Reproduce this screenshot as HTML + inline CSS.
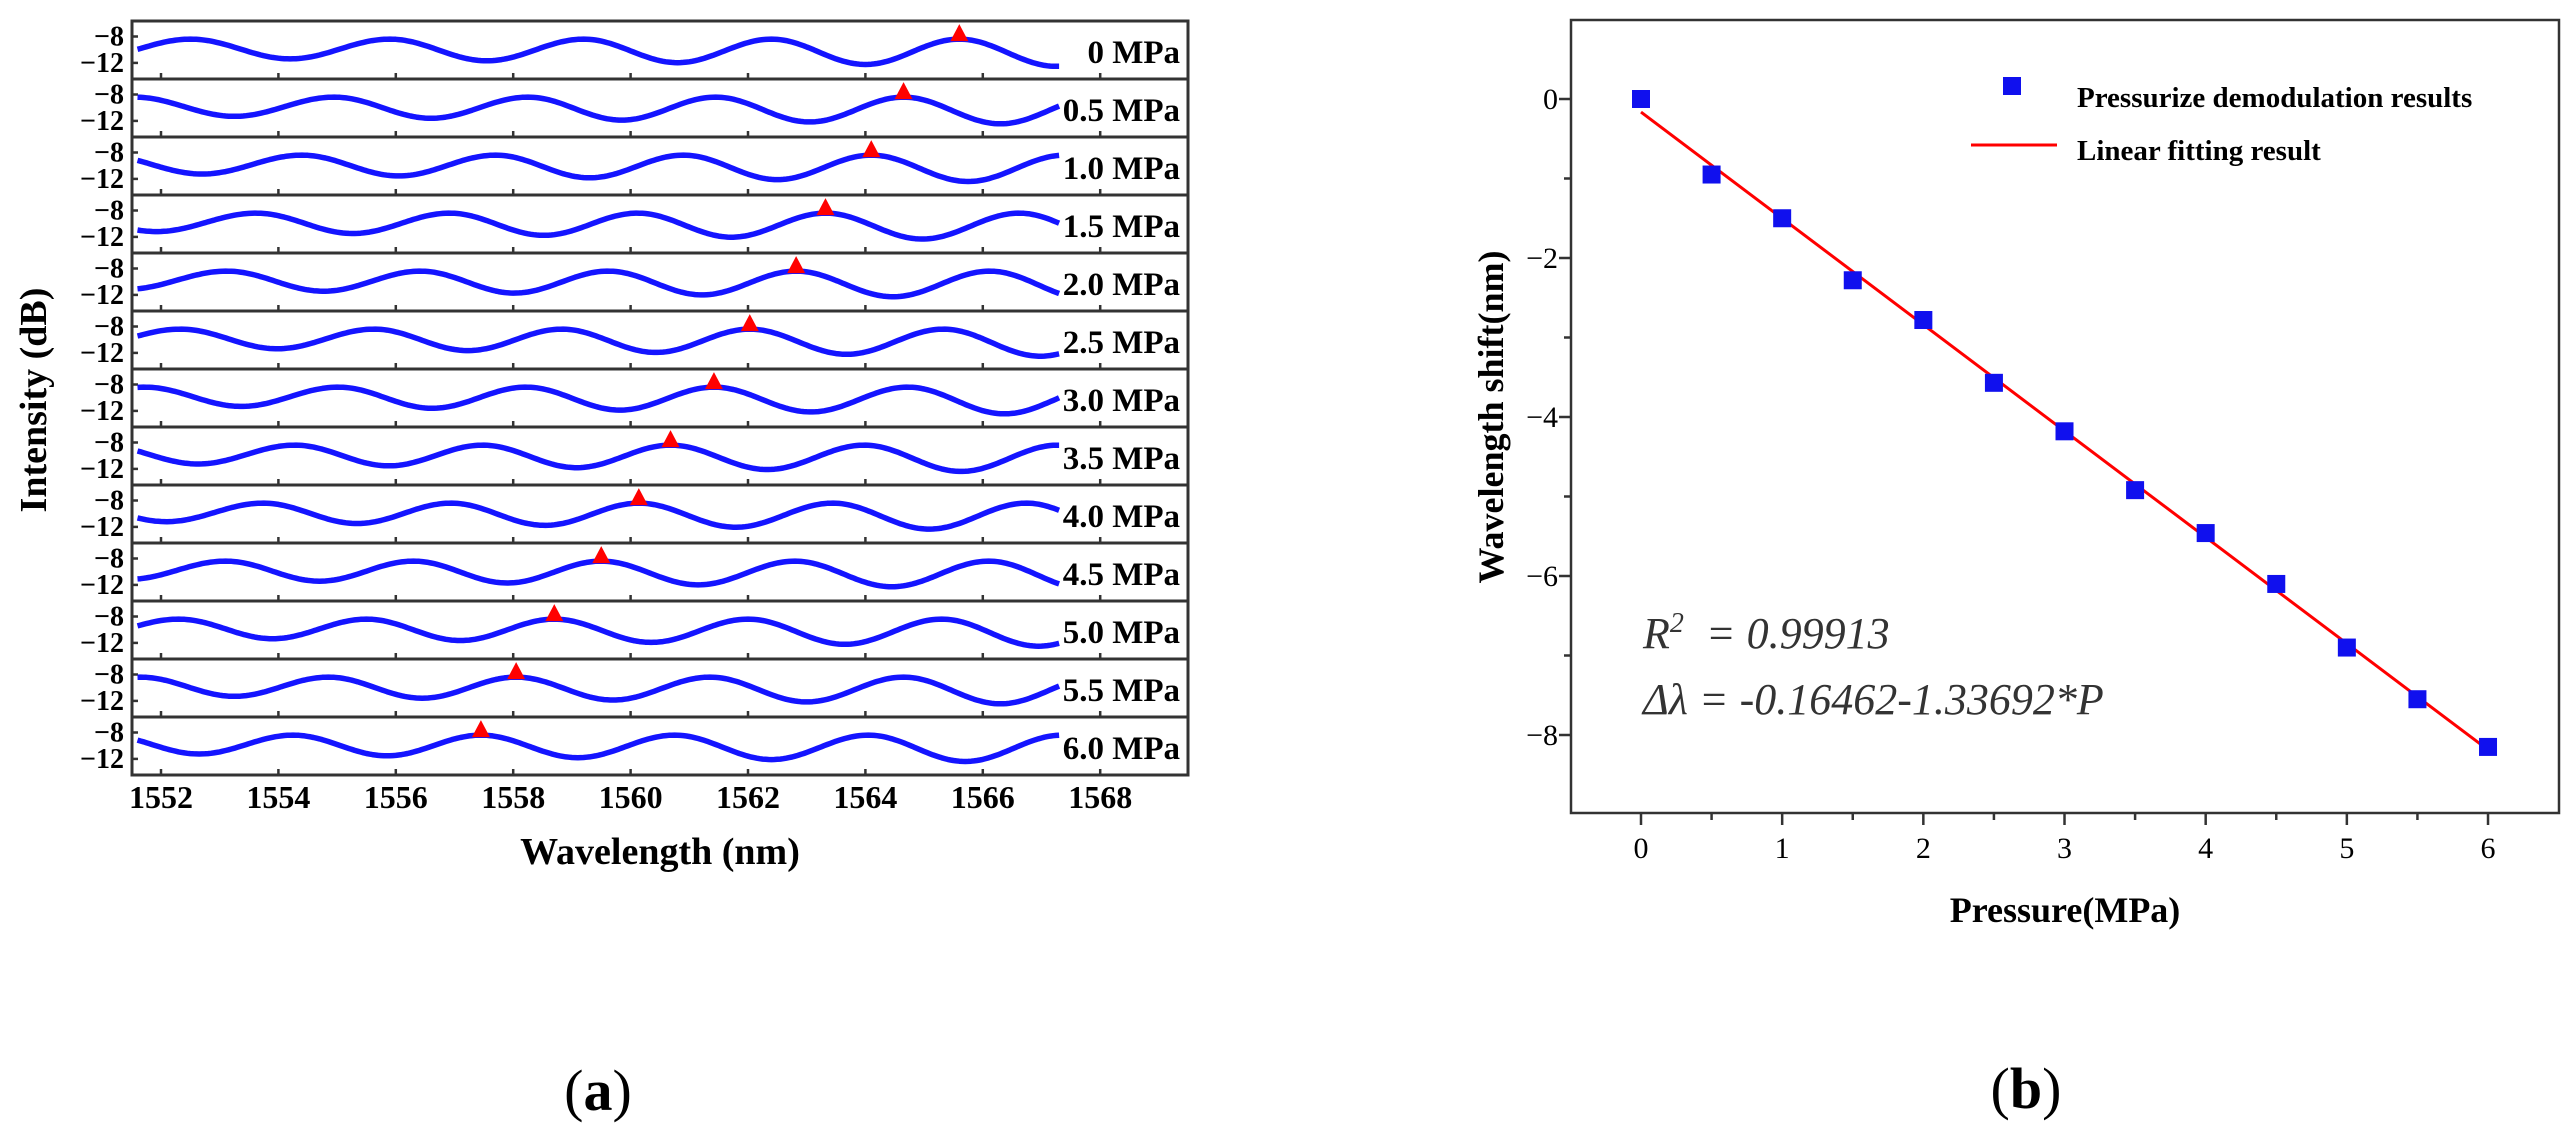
<!DOCTYPE html>
<html><head><meta charset="utf-8"><style>
html,body{margin:0;padding:0;background:#fff;}
svg{display:block;}
text{font-family:"Liberation Serif","DejaVu Serif",serif;}
</style></head><body>
<svg id="fig" width="2575" height="1146" viewBox="0 0 2575 1146" xmlns="http://www.w3.org/2000/svg">
<g id="left"></g>
<g id="right"></g>
<text x="598" y="1110" font-size="58" text-anchor="middle">(<tspan font-weight="bold">a</tspan>)</text>
<text x="2026" y="1108" font-size="58" text-anchor="middle">(<tspan font-weight="bold">b</tspan>)</text>
</svg>
<script>
// ---- data ----
const pressures = [0,0.5,1.0,1.5,2.0,2.5,3.0,3.5,4.0,4.5,5.0,5.5,6.0];
const pressureLabels = ["0 MPa","0.5 MPa","1.0 MPa","1.5 MPa","2.0 MPa","2.5 MPa","3.0 MPa","3.5 MPa","4.0 MPa","4.5 MPa","5.0 MPa","5.5 MPa","6.0 MPa"];
const shifts = [0,-0.95,-1.5,-2.28,-2.78,-3.57,-4.18,-4.92,-5.46,-6.1,-6.9,-7.55,-8.15];
const basePeaks = [1542.6,1545.9,1549.2,1552.5,1555.9,1559.2,1562.4,1565.6,1568.9,1572.2,1575.5,1578.8];
const trackedPeak = 1565.6;
const peakLevel = -8.4;
const dipDepthX = [1552,1567];
const dipDepthY = [-11.2,-12.5];
const wlTicks = [1552,1554,1556,1558,1560,1562,1564,1566,1568];
const dbTicks = [-8,-12];
const fitIntercept = -0.16462, fitSlope = -1.33692;
const pTicks = [0,1,2,3,4,5,6];
const shiftTicks = [0,-2,-4,-6,-8];

const NS="http://www.w3.org/2000/svg";
function mk(tag,attrs,parent){const e=document.createElementNS(NS,tag);for(const k in attrs)e.setAttribute(k,attrs[k]);parent.appendChild(e);return e;}

// ---- left panel ----
const L=document.getElementById('left');
const boxL=132, boxR=1188, top0=21, rowH=58;
const xW=w=>161+(w-1552)*58.7;
const yDb=(row,db)=>top0+row*rowH+15.5+(-8-db)*6.6;
const wMin=1551.6, wMax=1567.3;
function dipAt(w){const t=(w-dipDepthX[0])/(dipDepthX[1]-dipDepthX[0]);return dipDepthY[0]+t*(dipDepthY[1]-dipDepthY[0]);}
function specVal(w,s){
  const pk=basePeaks.map(p=>p+s);
  for(let k=0;k<pk.length-1;k++){
    if(w>=pk[k]&&w<=pk[k+1]){
      const mid=(pk[k]+pk[k+1])/2, d=dipAt(mid);
      const t=(w-pk[k])/(pk[k+1]-pk[k]);
      const c=(1+Math.cos(2*Math.PI*t))/2;
      return d+(peakLevel-d)*c;
    }
  }
  return peakLevel;
}
pressures.forEach((p,i)=>{
  const ry=top0+i*rowH;
  const g=mk('g',{},L);
  
  
  const r=mk('rect',{x:boxL,y:ry,width:boxR-boxL,height:rowH,fill:'none',stroke:'#333','stroke-width':3},g);
  
  
  wlTicks.forEach(w=>{mk('line',{x1:xW(w),x2:xW(w),y1:ry+rowH,y2:ry+rowH-6,stroke:'#333','stroke-width':2.5},g);});
  dbTicks.forEach(d=>{
    mk('line',{x1:boxL,x2:boxL+6,y1:yDb(i,d),y2:yDb(i,d),stroke:'#333','stroke-width':2.5},g);
    const t=mk('text',{x:boxL-8,y:yDb(i,d)+9,'font-size':28,'text-anchor':'end','font-weight':'bold'},g);
    t.textContent='\u2212'+Math.abs(d);
    
    
  });
  let dstr='';
  for(let w=wMin;w<=wMax+1e-9;w+=0.05){dstr+=(dstr?'L':'M')+xW(w).toFixed(1)+' '+yDb(i,specVal(w,shifts[i])).toFixed(1);}
  const path=mk('path',{d:dstr,fill:'none',stroke:'#1414ff','stroke-width':5.5,'stroke-linejoin':'round'},g);
  
  
  const tw=trackedPeak+shifts[i], tx=xW(tw), ty=yDb(i,specVal(tw,shifts[i]));
  const tri=mk('polygon',{points:`${tx-9},${ty+2} ${tx+9},${ty+2} ${tx},${ty-15}`,fill:'#ff0000'},g);
  
  
  const lb=mk('text',{x:1180,y:ry+42,'font-size':33,'font-weight':'bold','text-anchor':'end'},g);
  lb.textContent=pressureLabels[i];
  
  
});
wlTicks.forEach(w=>{
  const t=mk('text',{x:xW(w),y:808,'font-size':32,'font-weight':'bold','text-anchor':'middle'},L);
  t.textContent=w;
  
  
});
const xt=mk('text',{x:660,y:864,'font-size':38,'font-weight':'bold','text-anchor':'middle'},L);
xt.textContent='Wavelength (nm)';


const yt=mk('text',{x:0,y:0,'font-size':38,'font-weight':'bold','text-anchor':'middle',transform:'translate(46,400) rotate(-90)'},L);
yt.textContent='Intensity (dB)';



// ---- right panel ----
const R=document.getElementById('right');
const xP=p=>1641+p*141.17;
const yS=v=>99-v*79.5;
const fr=mk('rect',{x:1571,y:20,width:2559-1571,height:813-20,fill:'none',stroke:'#333','stroke-width':2.5},R);


for(let v=0;v>=-8;v-=1){
  const major=v%2===0;
  mk('line',{x1:1571,x2:1571-(major?12:7),y1:yS(v),y2:yS(v),stroke:'#333','stroke-width':2.5},R);
}
shiftTicks.forEach(v=>{
  const t=mk('text',{x:1558,y:yS(v)+10,'font-size':30,'text-anchor':'end'},R);
  t.textContent=v===0?'0':'\u2212'+Math.abs(v);
  
  
});
for(let p=0;p<=6;p+=0.5){
  const major=Number.isInteger(p);
  mk('line',{x1:xP(p),x2:xP(p),y1:813,y2:813+(major?12:7),stroke:'#333','stroke-width':2.5},R);
}
pTicks.forEach(p=>{
  const t=mk('text',{x:xP(p),y:858,'font-size':30,'text-anchor':'middle'},R);
  t.textContent=p;
  
  
});
const fl=mk('line',{x1:xP(0),y1:yS(fitIntercept),x2:xP(6),y2:yS(fitIntercept+6*fitSlope),stroke:'#ff0000','stroke-width':3},R);


pressures.forEach((p,i)=>{
  const s=mk('rect',{x:xP(p)-9,y:yS(shifts[i])-9,width:18,height:18,fill:'#1010ee'},R);
  
  
});
const lg=mk('g',{},R);


mk('rect',{x:2003,y:77,width:18,height:18,fill:'#1010ee'},lg);
const l1=mk('text',{x:2077,y:107,'font-size':29,'font-weight':'bold'},lg);
l1.textContent='Pressurize demodulation results';
mk('line',{x1:1971,x2:2057,y1:145,y2:145,stroke:'#ff0000','stroke-width':3},lg);
const l2=mk('text',{x:2077,y:160,'font-size':29,'font-weight':'bold'},lg);
l2.textContent='Linear fitting result';
const r2=mk('text',{x:1643,y:648,'font-size':44,'font-style':'italic',fill:'#333'},R);
r2.innerHTML='R<tspan font-size="28" dy="-16">2</tspan><tspan dy="16"> &#160;= 0.99913</tspan>';


const eq=mk('text',{x:1643,y:714,'font-size':44,'font-style':'italic',fill:'#333'},R);
eq.textContent='\u0394\u03bb = -0.16462-1.33692*P';


const px=mk('text',{x:2065,y:922,'font-size':36,'font-weight':'bold','text-anchor':'middle'},R);
px.textContent='Pressure(MPa)';


const py=mk('text',{x:0,y:0,'font-size':36,'font-weight':'bold','text-anchor':'middle',transform:'translate(1503,417) rotate(-90)'},R);
py.textContent='Wavelength shift(nm)';


</script>
</body></html>
